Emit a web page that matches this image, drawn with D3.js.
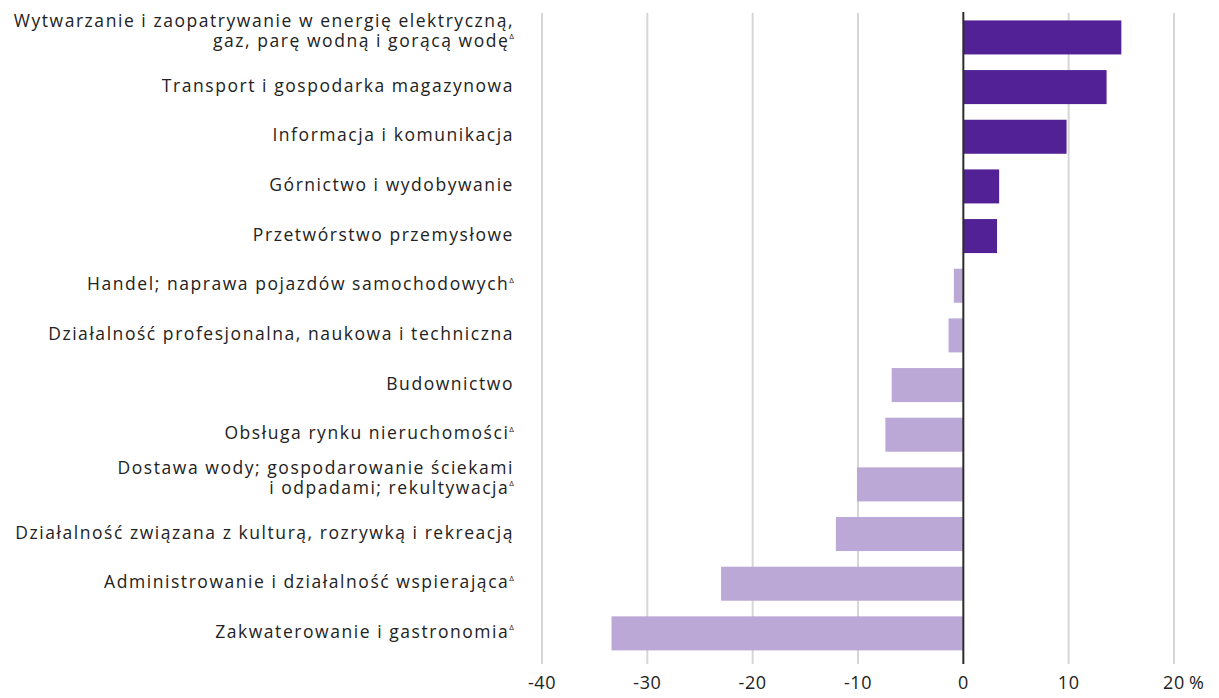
<!DOCTYPE html>
<html>
<head>
<meta charset="utf-8">
<script src="https://cdn.jsdelivr.net/npm/d3@7"></script>
<style>
  body { margin: 0; background: #fff; }
  svg text { font-family: "Open Sans", "Noto Sans", sans-serif; fill: #222; }
</style>
</head>
<body>
<div id="graph"></div>
<script>
// Categories (each entry is a list of lines) and whether they carry the delta mark
const categories = [
    ["Wytwarzanie i zaopatrywanie w energię elektryczną,", "gaz, parę wodną i gorącą wodę"],
    ["Transport i gospodarka magazynowa"],
    ["Informacja i komunikacja"],
    ["Górnictwo i wydobywanie"],
    ["Przetwórstwo przemysłowe"],
    ["Handel; naprawa pojazdów samochodowych"],
    ["Działalność profesjonalna, naukowa i techniczna"],
    ["Budownictwo"],
    ["Obsługa rynku nieruchomości"],
    ["Dostawa wody; gospodarowanie ściekami", "i odpadami; rekultywacja"],
    ["Działalność związana z kulturą, rozrywką i rekreacją"],
    ["Administrowanie i działalność wspierająca"],
    ["Zakwaterowanie i gastronomia"]
];
const deltaMarks = [true, false, false, false, false, true, false, false, true, true, false, true, true];
const values = [15.0, 13.6, 9.8, 3.4, 3.2, -0.9, -1.4, -6.8, -7.4, -10.1, -12.1, -23.0, -33.4];
const xTicks = [-40, -30, -20, -10, 0, 10, 20];

const chart = {
    init: function (width, height) {
        this.width = width;
        this.height = height;

        this.svg = d3.select("#graph").append("svg")
            .attr("width", width)
            .attr("height", height);

        this.x = d3.scaleLinear().domain([-40, 20]).range([542, 1174]);
        this.y = d3.scaleBand()
            .domain(d3.range(categories.length))
            .range([12.6, 658.2])
            .paddingInner(0.315)
            .paddingOuter(0.1575);

        this.drawGrid();
        this.drawBars();
        this.drawLabels();
        this.drawAxis();
    },

    drawGrid: function () {
        // Light vertical gridlines behind the bars
        this.svg.append("g").selectAll("line")
            .data(xTicks.filter(d => d !== 0))
            .join("line")
            .attr("x1", d => this.x(d))
            .attr("x2", d => this.x(d))
            .attr("y1", 13)
            .attr("y2", 664)
            .attr("stroke", "#d6d6d6")
            .attr("stroke-width", 2);
    },

    drawBars: function () {
        const data = values.map((v, i) => ({ i: i, v: v }));
        this.svg.append("g").selectAll("rect")
            .data(data)
            .join("rect")
            .attr("x", d => this.x(Math.min(0, d.v)))
            .attr("width", d => Math.abs(this.x(d.v) - this.x(0)))
            .attr("y", d => this.y(d.i))
            .attr("height", this.y.bandwidth())
            .attr("fill", d => d.v >= 0 ? "#512195" : "#bba8d6");

        // Zero line on top of the bars
        this.svg.append("line")
            .attr("x1", this.x(0)).attr("x2", this.x(0))
            .attr("y1", 12).attr("y2", 664)
            .attr("stroke", "#2b2b2b")
            .attr("stroke-width", 2);
    },

    drawLabels: function () {
        const g = this.svg.append("g");
        const lineGap = 20;
        categories.forEach((lines, i) => {
            const cy = this.y(i) + this.y.bandwidth() / 2;
            const top = lines.length === 1 ? cy : cy - 15;
            lines.forEach((line, j) => {
                const t = g.append("text")
                    .attr("x", 514)
                    .attr("y", top + j * lineGap)
                    .attr("text-anchor", "end")
                    .attr("dominant-baseline", "middle")
                    .attr("font-size", 17.5)
                    .attr("letter-spacing", 1.55)
                    .text(line);
                // Delta mark goes after the last line
                if (deltaMarks[i] && j === lines.length - 1) {
                    t.append("tspan")
                        .attr("font-size", 8)
                        .attr("letter-spacing", 0)
                        .attr("dy", -5)
                        .text("\u0394");
                }
            });
        });
    },

    drawAxis: function () {
        const g = this.svg.append("g");
        g.selectAll("text")
            .data(xTicks)
            .join("text")
            .attr("x", d => this.x(d))
            .attr("y", 684)
            .attr("text-anchor", "middle")
            .attr("dominant-baseline", "middle")
            .attr("font-size", 18)
            .attr("letter-spacing", 0.6)
            .text(d => d);

        g.append("text")
            .attr("x", this.x(20) + 15)
            .attr("y", 684)
            .attr("dominant-baseline", "middle")
            .attr("font-size", 18)
            .text("%");
    }
};

document.addEventListener("DOMContentLoaded", function () {
    chart.init(1219, 698);
});
</script>
</body>
</html>
